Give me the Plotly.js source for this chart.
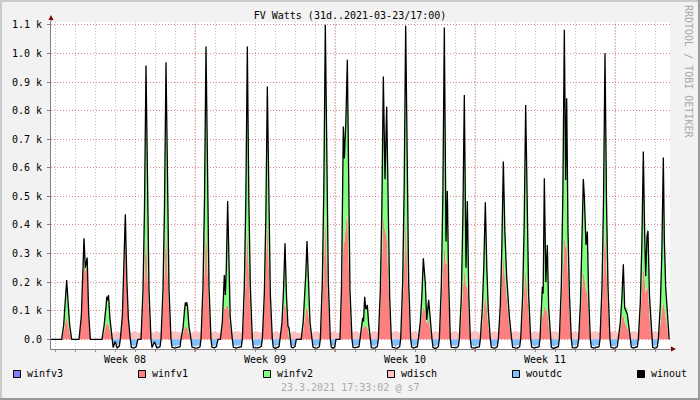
<!DOCTYPE html>
<html><head><meta charset="utf-8">
<script src="https://cdn.plot.ly/plotly-3.0.1.min.js"></script>
<style>html,body{margin:0;padding:0;background:#f2f2f2}#chart{width:700px;height:400px}</style>
</head><body><div id="chart"></div>
<script>
// ---------- texts ----------
const titleText = 'FV Watts (31d..2021-03-23/17:00)';
const footerText = '23.3.2021 17:33:02 @ s7';
const sideText = 'RRDTOOL / TOBI OETIKER';
const seriesNames = ['winfv3', 'winfv1', 'winfv2', 'wdisch', 'woutdc', 'winout'];
const seriesColors = ['#7f7fff', '#ff8080', '#80ff80', '#ffc0c0', '#80c0ff', '#000000'];
const yTickVals = [0, 100, 200, 300, 400, 500, 600, 700, 800, 900, 1000, 1100];
const yTickText = ['0.0', '0.1 k', '0.2 k', '0.3 k', '0.4 k', '0.5 k', '0.6 k', '0.7 k', '0.8 k', '0.9 k', '1.0 k', '1.1 k'];
const weekLabels = ['Week 08', 'Week 09', 'Week 10', 'Week 11'];
// hours after 2021-02-21 00:00
const startDate = Date.UTC(2021, 1, 21, 0, 0, 0);
const weekMidHours = [84, 252, 420, 588];
const weekStartHours = [168, 336, 504, 672];
const rangeHours = [-4.8, 738];
const yRange = [-34, 1110];

// ---------- series (W), sampled at hours ----------
const hours = [
 -4.8, 8.0, 10.4, 12.2, 14.0, 15.8, 17.6, 20.0,
 28.8, 31.6, 33.4, 34.8, 36.4, 38.6, 40.4, 42.4,
 56.4, 59.0, 61.2, 62.2, 63.2, 64.2, 66.0, 68.6,
 69.8, 72.2, 74.6, 77.2,
 78.4, 80.8, 82.6, 84.4, 86.2, 88.0, 90.4,
 91.6, 94.4, 97.4, 99.4,
 103.2, 105.6, 107.4, 109.2, 111.0, 112.8, 115.2,
 116.4, 119.4, 122.4, 126.0,
 127.2, 129.6, 131.4, 133.2, 135.0, 136.8, 139.2,
 140.4, 143.6, 146.8, 150.0,
 151.2, 153.6, 155.4, 156.4, 157.2, 158.0, 159.0, 160.8, 163.2,
 164.4, 167.6, 170.8, 174.0,
 175.2, 177.6, 179.4, 181.2, 183.0, 184.8, 187.2,
 188.4, 191.0, 193.6, 195.6,
 198.4, 200.8, 202.2, 203.2, 204.4, 205.6, 207.2, 208.6, 210.2, 212.8,
 214.0, 217.2, 220.4, 223.6,
 224.8, 227.2, 229.0, 230.8, 232.6, 234.4, 236.8,
 238.0, 241.2, 244.4, 247.6,
 248.8, 251.2, 253.0, 254.8, 256.6, 258.4, 260.8,
 262.0, 264.4, 266.8, 268.8,
 270.0, 272.4, 274.2, 276.0, 277.8, 279.6, 280.8, 282.4,
 283.6, 285.8, 288.0, 289.6,
 295.4, 297.8, 299.6, 301.0, 302.4, 304.2, 306.0, 308.4,
 309.6, 312.2, 314.8, 317.2,
 318.4, 320.8, 322.6, 324.4, 326.2, 328.0, 330.4,
 331.6, 333.6, 335.6, 337.2,
 342.0, 343.8, 345.0, 346.0, 347.2, 349.0, 350.8, 352.6, 354.0, 356.4,
 357.6, 360.0, 362.4, 364.8,
 366.0, 367.6, 369.2, 370.2, 371.6, 373.0, 374.8, 376.4, 378.4,
 379.6, 382.0, 384.4, 386.8,
 388.0, 390.4, 392.2, 394.0, 396.0, 398.0, 399.8, 401.6, 403.6,
 404.8, 407.8, 410.8, 413.6,
 414.8, 417.2, 419.0, 420.8, 422.6, 424.4, 426.8,
 428.0, 430.4, 432.8, 434.8,
 436.0, 438.4, 440.2, 442.0, 444.4, 446.0, 448.4, 450.2, 452.4,
 453.6, 455.8, 458.0, 460.0,
 461.2, 463.6, 465.4, 467.2, 469.2, 470.8, 472.4, 474.4,
 475.6, 478.4, 481.2, 484.0,
 485.2, 487.6, 489.4, 491.2, 493.2, 494.8, 496.6, 498.4,
 499.6, 502.8, 506.0, 509.2,
 510.4, 512.8, 514.6, 516.4, 518.2, 520.0, 522.4,
 523.6, 526.2, 528.8, 530.8,
 532.0, 534.4, 536.2, 538.0, 539.8, 542.0, 543.6, 545.2, 548.0,
 549.2, 552.0, 554.8, 557.6,
 558.8, 561.2, 563.0, 564.8, 566.6, 568.4, 570.8,
 572.0, 575.0, 578.0, 580.8,
 582.0, 583.6, 584.8, 585.8, 587.2, 589.0, 590.8, 592.4, 594.4,
 595.6, 598.4, 601.2, 604.0,
 605.2, 607.6, 609.4, 611.2, 612.8, 614.0, 615.6, 617.4, 619.6,
 620.8, 623.0, 625.2, 627.2,
 628.4, 630.6, 632.4, 634.0, 635.2, 637.2, 638.8, 640.4, 642.4,
 643.6, 646.8, 650.0, 652.8,
 654.0, 656.4, 658.2, 660.0, 661.8, 663.6, 666.0,
 667.2, 669.8, 672.4, 674.8,
 676.0, 678.4, 680.2, 682.0, 683.6, 685.2, 686.8, 688.4, 690.4,
 691.6, 694.0, 696.4, 698.8,
 700.0, 702.4, 704.2, 706.0, 707.4, 708.8, 710.4, 711.6, 713.4, 716.0,
 717.2, 719.2, 721.2, 722.8,
 724.0, 726.4, 728.2, 730.0, 731.2, 732.8, 734.6, 736.4, 737.0
];

const winout = [
 0, 0, 50, 125, 207, 125, 50, 0,
 0, 80, 230, 353, 250, 286, 90, 0,
 0, 50, 115, 149, 136, 155, 70, 0,
 -29, -8, -30, -24,
 0, 80, 230, 437, 210, 75, 0,
 -28, -31, -26, 0,
 0, 170, 460, 958, 460, 170, 0,
 -29, -9, -30, -26,
 0, 175, 465, 969, 465, 175, 0,
 -28, -31, -29, -26,
 0, 40, 100, 128, 118, 130, 115, 45, 0,
 -27, -30, -31, -26,
 0, 185, 490, 1024, 490, 185, 0,
 -28, -30, -26, 0,
 0, 60, 160, 225, 155, 250, 484, 230, 80, 0,
 -28, -31, -29, -26,
 0, 185, 490, 1024, 490, 185, 0,
 -29, -30, -30, -25,
 0, 160, 425, 884, 425, 160, 0,
 -28, -32, -29, -26,
 0, 60, 170, 336, 150, 45, 40, 0,
 -28, -30, -25, 0,
 0, 60, 150, 230, 344, 170, 60, 0,
 -27, -31, -30, -26,
 0, 200, 530, 1100, 530, 200, 0,
 -28, -31, -27, 0,
 0, 180, 420, 744, 633, 760, 978, 480, 170, 0,
 -28, -30, -29, -26,
 0, 35, 75, 62, 149, 105, 120, 55, 0,
 -29, -31, -30, -25,
 0, 170, 450, 919, 560, 814, 400, 150, 0,
 -28, -30, -31, -26,
 0, 200, 530, 1097, 530, 200, 0,
 -27, -31, -29, -26,
 0, 60, 150, 283, 196, 68, 138, 60, 0,
 -28, -32, -30, -26,
 0, 190, 500, 1091, 342, 519, 200, 0,
 -28, -30, -30, -25,
 0, 150, 420, 855, 250, 484, 150, 0,
 -29, -31, -29, -26,
 0, 110, 260, 479, 250, 100, 0,
 -28, -31, -30, -26,
 0, 120, 320, 622, 380, 219, 140, 80, 0,
 -28, -30, -31, -26,
 0, 155, 400, 820, 400, 155, 0,
 -27, -31, -29, -26,
 0, 90, 184, 160, 563, 200, 330, 110, 0,
 -28, -32, -30, -26,
 0, 190, 500, 1083, 557, 843, 380, 150, 0,
 -29, -30, -30, -25,
 0, 130, 330, 561, 500, 330, 377, 150, 0,
 -28, -31, -29, -26,
 0, 185, 480, 1001, 480, 185, 0,
 -28, -31, -30, -26,
 0, 60, 140, 262, 110, 100, 88, 50, 0,
 -27, -31, -29, -26,
 0, 130, 330, 657, 400, 221, 360, 379, 150, 0,
 -28, -31, -30, -26,
 0, 120, 300, 636, 350, 184, 90, 0, 0
];

const winfv1 = [
 0, 0, 25, 55, 79, 50, 22, 0,
 0, 70, 200, 280, 235, 255, 80, 0,
 0, 25, 48, 57, 56, 52, 28, 0,
 0, 0, 0, 0,
 0, 70, 200, 380, 185, 65, 0,
 0, 0, 0, 0,
 0, 105, 230, 377, 225, 100, 0,
 0, 0, 0, 0,
 0, 110, 240, 400, 240, 110, 0,
 0, 0, 0, 0,
 0, 20, 38, 44, 44, 42, 38, 18, 0,
 0, 0, 0, 0,
 0, 115, 250, 412, 248, 112, 0,
 0, 0, 0, 0,
 0, 40, 90, 110, 105, 115, 120, 100, 45, 0,
 0, 0, 0, 0,
 0, 110, 235, 390, 235, 105, 0,
 0, 0, 0, 0,
 0, 120, 255, 425, 255, 118, 0,
 0, 0, 0, 0,
 0, 45, 95, 132, 90, 35, 0, 0,
 0, 0, 0, 0,
 0, 30, 70, 100, 120, 85, 35, 0,
 0, 0, 0, 0,
 0, 120, 260, 435, 260, 118, 0,
 0, 0, 0, 0,
 0, 110, 230, 330, 340, 400, 447, 250, 100, 0,
 0, 0, 0, 0,
 0, 20, 38, 40, 50, 45, 40, 20, 0,
 0, 0, 0, 0,
 0, 110, 250, 435, 380, 360, 230, 100, 0,
 0, 0, 0, 0,
 0, 120, 260, 435, 260, 120, 0,
 0, 0, 0, 0,
 0, 40, 85, 114, 95, 55, 70, 35, 0,
 0, 0, 0, 0,
 0, 110, 230, 330, 260, 280, 130, 0,
 0, 0, 0, 0,
 0, 80, 170, 248, 180, 200, 80, 0,
 0, 0, 0, 0,
 0, 50, 110, 155, 105, 45, 0,
 0, 0, 0, 0,
 0, 80, 200, 295, 220, 150, 100, 50, 0,
 0, 0, 0, 0,
 0, 90, 170, 250, 165, 85, 0,
 0, 0, 0, 0,
 0, 45, 80, 85, 120, 100, 100, 50, 0,
 0, 0, 0, 0,
 0, 110, 230, 365, 320, 330, 220, 90, 0,
 0, 0, 0, 0,
 0, 80, 170, 237, 220, 170, 160, 80, 0,
 0, 0, 0, 0,
 0, 115, 245, 400, 245, 115, 0,
 0, 0, 0, 0,
 0, 35, 70, 90, 60, 50, 40, 25, 0,
 0, 0, 0, 0,
 0, 80, 170, 250, 220, 160, 180, 175, 80, 0,
 0, 0, 0, 0,
 0, 50, 100, 132, 110, 80, 45, 0, 0
];

const winfv2 = [
 0, 0, 25, 72, 130, 77, 30, 0,
 0, 12, 32, 78, 18, 35, 12, 0,
 0, 27, 70, 95, 83, 106, 45, 0,
 0, 0, 0, 0,
 0, 12, 35, 62, 30, 12, 0,
 0, 0, 0, 0,
 0, 70, 238, 600, 243, 75, 0,
 0, 0, 0, 0,
 0, 70, 235, 590, 235, 70, 0,
 0, 0, 0, 0,
 0, 22, 64, 86, 76, 90, 79, 28, 0,
 0, 0, 0, 0,
 0, 75, 248, 628, 250, 78, 0,
 0, 0, 0, 0,
 0, 22, 72, 118, 52, 138, 368, 132, 37, 0,
 0, 0, 0, 0,
 0, 78, 262, 640, 262, 82, 0,
 0, 0, 0, 0,
 0, 42, 178, 466, 178, 44, 0,
 0, 0, 0, 0,
 0, 17, 80, 210, 65, 14, 42, 0,
 0, 0, 0, 0,
 0, 32, 82, 133, 228, 88, 27, 0,
 0, 0, 0, 0,
 0, 82, 275, 680, 275, 85, 0,
 0, 0, 0, 0,
 0, 75, 200, 425, 305, 372, 545, 240, 75, 0,
 0, 0, 0, 0,
 0, 18, 40, 30, 105, 66, 84, 38, 0,
 0, 0, 0, 0,
 0, 62, 205, 490, 185, 460, 175, 52, 0,
 0, 0, 0, 0,
 0, 82, 275, 675, 275, 82, 0,
 0, 0, 0, 0,
 0, 22, 70, 175, 105, 15, 72, 28, 0,
 0, 0, 0, 0,
 0, 85, 280, 775, 90, 250, 75, 0,
 0, 0, 0, 0,
 0, 75, 255, 620, 75, 290, 75, 0,
 0, 0, 0, 0,
 0, 62, 155, 330, 150, 57, 0,
 0, 0, 0, 0,
 0, 45, 128, 345, 170, 75, 45, 32, 0,
 0, 0, 0, 0,
 0, 68, 238, 585, 243, 72, 0,
 0, 0, 0, 0,
 0, 47, 106, 78, 445, 102, 232, 62, 0,
 0, 0, 0, 0,
 0, 82, 275, 725, 245, 520, 165, 62, 0,
 0, 0, 0, 0,
 0, 55, 165, 330, 285, 165, 222, 72, 0,
 0, 0, 0, 0,
 0, 74, 245, 607, 245, 74, 0,
 0, 0, 0, 0,
 0, 27, 72, 175, 55, 60, 70, 30, 0,
 0, 0, 0, 0,
 0, 55, 165, 410, 185, 65, 200, 215, 75, 0,
 0, 0, 0, 0,
 0, 72, 205, 510, 245, 106, 47, 0, 0
];

// battery discharge / dc output, sampled at night hours
const nightHours = [
 66.0, 68.6, 69.8, 72.2, 74.6, 77.2, 78.4, 80.8,
 88.0, 90.4, 91.6, 94.4, 97.4, 99.4, 103.2, 105.6,
 112.8, 115.2, 116.4, 119.4, 122.4, 126.0, 127.2, 129.6,
 136.8, 139.2, 140.4, 143.6, 146.8, 150.0, 151.2, 153.6,
 160.8, 163.2, 164.4, 167.6, 170.8, 174.0, 175.2, 177.6,
 184.8, 187.2, 188.4, 191.0, 193.6, 195.6, 198.4, 200.8,
 210.2, 212.8, 214.0, 217.2, 220.4, 223.6, 224.8, 227.2,
 234.4, 236.8, 238.0, 241.2, 244.4, 247.6, 248.8, 251.2,
 258.4, 260.8, 262.0, 264.4, 266.8, 268.8, 270.0, 272.4,
 279.6, 282.4, 283.6, 285.8, 288.0, 289.6, 295.4, 297.8,
 306.0, 308.4, 309.6, 312.2, 314.8, 317.2, 318.4, 320.8,
 328.0, 330.4, 331.6, 333.6, 335.6, 337.2, 342.0, 343.8,
 354.0, 356.4, 357.6, 360.0, 362.4, 364.8, 366.0, 367.6,
 376.4, 378.4, 379.6, 382.0, 384.4, 386.8, 388.0, 390.4,
 401.6, 403.6, 404.8, 407.8, 410.8, 413.6, 414.8, 417.2,
 424.4, 426.8, 428.0, 430.4, 432.8, 434.8, 436.0, 438.4,
 450.2, 452.4, 453.6, 455.8, 458.0, 460.0, 461.2, 463.6,
 472.4, 474.4, 475.6, 478.4, 481.2, 484.0, 485.2, 487.6,
 496.6, 498.4, 499.6, 502.8, 506.0, 509.2, 510.4, 512.8,
 520.0, 522.4, 523.6, 526.2, 528.8, 530.8, 532.0, 534.4,
 545.2, 548.0, 549.2, 552.0, 554.8, 557.6, 558.8, 561.2,
 568.4, 570.8, 572.0, 575.0, 578.0, 580.8, 582.0, 583.6,
 592.4, 594.4, 595.6, 598.4, 601.2, 604.0, 605.2, 607.6,
 617.4, 619.6, 620.8, 623.0, 625.2, 627.2, 628.4, 630.6,
 640.4, 642.4, 643.6, 646.8, 650.0, 652.8, 654.0, 656.4,
 663.6, 666.0, 667.2, 669.8, 672.4, 674.8, 676.0, 678.4,
 688.4, 690.4, 691.6, 694.0, 696.4, 698.8, 700.0, 702.4,
 713.4, 716.0, 717.2, 719.2, 721.2, 722.8, 724.0, 726.4
];
const wdisch = [
 0, 20, 26, 22, 28, 25, 22, 0,
 0, 22, 25, 28, 26, 24, 22, 0,
 0, 22, 25, 24, 28, 25, 22, 0,
 0, 22, 27, 28, 26, 24, 22, 0,
 0, 22, 25, 28, 28, 24, 22, 0,
 0, 22, 25, 28, 26, 24, 22, 0,
 0, 22, 26, 28, 27, 24, 22, 0,
 0, 22, 26, 28, 26, 24, 22, 0,
 0, 22, 25, 28, 27, 25, 22, 0,
 0, 22, 25, 28, 26, 24, 22, 0,
 0, 22, 25, 28, 27, 24, 22, 0,
 0, 22, 25, 28, 26, 24, 22, 0,
 0, 22, 26, 28, 27, 24, 22, 0,
 0, 22, 25, 28, 27, 25, 22, 0,
 0, 22, 26, 27, 28, 24, 22, 0,
 0, 22, 25, 28, 27, 24, 22, 0,
 0, 22, 26, 28, 26, 25, 22, 0,
 0, 22, 25, 28, 27, 24, 22, 0,
 0, 22, 26, 28, 27, 24, 22, 0,
 0, 22, 25, 27, 28, 24, 22, 0,
 0, 22, 26, 28, 27, 25, 22, 0,
 0, 22, 25, 28, 27, 24, 22, 0,
 0, 22, 26, 28, 26, 24, 22, 0,
 0, 22, 25, 28, 27, 24, 22, 0,
 0, 22, 26, 27, 28, 25, 22, 0,
 0, 22, 25, 28, 27, 24, 22, 0,
 0, 22, 26, 28, 27, 24, 22, 0,
 0, 22, 25, 28, 27, 24, 22, 0
];
const woutdc = [
 0, 0, -20, -5, -22, -16, 0, 0,
 0, 0, -20, -24, -18, 0, 0, 0,
 0, 0, -20, -6, -22, -18, 0, 0,
 0, 0, -21, -24, -22, -17, 0, 0,
 0, 0, -19, -24, -23, -18, 0, 0,
 0, 0, -20, -24, -18, 0, 0, 0,
 0, 0, -20, -23, -22, -18, 0, 0,
 0, 0, -20, -23, -22, -18, 0, 0,
 0, 0, -21, -24, -21, -18, 0, 0,
 0, 0, -20, -24, -18, 0, 0, 0,
 0, 0, -20, -24, -22, -18, 0, 0,
 0, 0, -20, -24, -18, 0, 0, 0,
 0, 0, -21, -23, -22, -18, 0, 0,
 0, 0, -20, -24, -22, -17, 0, 0,
 0, 0, -19, -24, -23, -18, 0, 0,
 0, 0, -20, -24, -22, -18, 0, 0,
 0, 0, -21, -25, -22, -18, 0, 0,
 0, 0, -20, -23, -22, -17, 0, 0,
 0, 0, -20, -24, -22, -18, 0, 0,
 0, 0, -21, -24, -23, -18, 0, 0,
 0, 0, -20, -24, -22, -18, 0, 0,
 0, 0, -19, -24, -22, -18, 0, 0,
 0, 0, -21, -25, -22, -18, 0, 0,
 0, 0, -20, -23, -22, -17, 0, 0,
 0, 0, -20, -24, -22, -18, 0, 0,
 0, 0, -21, -24, -23, -18, 0, 0,
 0, 0, -20, -24, -22, -18, 0, 0,
 0, 0, -20, -24, -21, -18, 0, 0
];
const winfv3Hours = [-4.8, 737.0];
const winfv3 = [0, 0];

if (hours.length !== winout.length || hours.length !== winfv1.length || hours.length !== winfv2.length) {
  throw new Error('length mismatch ' + [hours.length, winout.length, winfv1.length, winfv2.length].join(','));
}
if (nightHours.length !== wdisch.length || nightHours.length !== woutdc.length) {
  throw new Error('night length mismatch ' + [nightHours.length, wdisch.length, woutdc.length].join(','));
}

// ---------- helpers ----------
function hourToDate(h) {
  return new Date(startDate + Math.round(h * 3600000)).toISOString().slice(0, 19).replace('T', ' ');
}
const PL = 51, PR = 670, PT = 22, PB = 349;
const px = X => (X - PL) / (PR - PL);
const py = Y => (PB - Y) / (PB - PT);
const FONT = 'DejaVu Sans Mono';

const xs = hours.map(hourToDate);
const nxs = nightHours.map(hourToDate);

const traces = [
  {name: 'wdisch', x: nxs, y: wdisch, type: 'scatter', mode: 'none', fill: 'tozeroy', fillcolor: seriesColors[3], hoverinfo: 'skip'},
  {name: 'woutdc', x: nxs, y: woutdc, type: 'scatter', mode: 'none', fill: 'tozeroy', fillcolor: seriesColors[4], hoverinfo: 'skip'},
  {name: 'winfv3', x: winfv3Hours.map(hourToDate), y: winfv3, type: 'scatter', mode: 'none', fill: 'tozeroy', fillcolor: seriesColors[0], hoverinfo: 'skip'},
  {name: 'winfv1', x: xs, y: winfv1, type: 'scatter', mode: 'none', stackgroup: 'pv', fillcolor: seriesColors[1], hoverinfo: 'skip'},
  {name: 'winfv2', x: xs, y: winfv2, type: 'scatter', mode: 'none', stackgroup: 'pv', fillcolor: seriesColors[2], hoverinfo: 'skip'},
  {name: 'winout', x: xs, y: winout, type: 'scatter', mode: 'lines', line: {color: seriesColors[5], width: 1.3}, hoverinfo: 'skip'}
];

// ---------- decorations ----------
const shapes = [];
weekStartHours.forEach(h => {
  shapes.push({type: 'line', xref: 'x', yref: 'paper', x0: hourToDate(h), x1: hourToDate(h), y0: 0, y1: 1,
    line: {color: 'rgba(210,80,80,0.7)', width: 1, dash: '1px,2px'}, layer: 'between'});
  shapes.push({type: 'line', xref: 'x', yref: 'paper', x0: hourToDate(h), x1: hourToDate(h), y0: py(352), y1: py(349),
    line: {color: '#c06060', width: 1}});
});
// axis arrows
shapes.push({type: 'line', xref: 'paper', yref: 'paper', x0: 0, x1: 0, y0: 1, y1: py(18), line: {color: '#808080', width: 1}});
shapes.push({type: 'line', xref: 'paper', yref: 'paper', x0: 1, x1: px(672), y0: 0, y1: 0, line: {color: '#808080', width: 1}});
shapes.push({type: 'path', xref: 'paper', yref: 'paper',
  path: `M ${px(48.5)},${py(20)} L ${px(53.5)},${py(20)} L ${px(51)},${py(15)} Z`, fillcolor: '#800000', line: {width: 0}});
shapes.push({type: 'path', xref: 'paper', yref: 'paper',
  path: `M ${px(671)},${py(346.5)} L ${px(671)},${py(351.5)} L ${px(676)},${py(349)} Z`, fillcolor: '#800000', line: {width: 0}});
// 3D border
shapes.push({type: 'line', xref: 'paper', yref: 'paper', x0: px(0), x1: px(700), y0: py(1), y1: py(1), line: {color: '#cbcbcb', width: 2}});
shapes.push({type: 'line', xref: 'paper', yref: 'paper', x0: px(1), x1: px(1), y0: py(0), y1: py(400), line: {color: '#cbcbcb', width: 2}});
shapes.push({type: 'line', xref: 'paper', yref: 'paper', x0: px(0), x1: px(700), y0: py(399), y1: py(399), line: {color: '#999999', width: 2}});
shapes.push({type: 'line', xref: 'paper', yref: 'paper', x0: px(699), x1: px(699), y0: py(0), y1: py(400), line: {color: '#999999', width: 2}});

// legend
const legendBoxX = [13.5, 138.5, 263.5, 387.5, 512.5, 637.5];
const annotations = [];
seriesNames.forEach((n, i) => {
  shapes.push({type: 'rect', xref: 'paper', yref: 'paper', x0: px(legendBoxX[i]), x1: px(legendBoxX[i] + 7),
    y0: py(377.5), y1: py(370.5), fillcolor: seriesColors[i], line: {color: '#000', width: 1}});
  annotations.push({xref: 'paper', yref: 'paper', x: px(legendBoxX[i] + 12), y: py(374), text: n, showarrow: false,
    xanchor: 'left', yanchor: 'middle', font: {family: FONT, size: 10, color: '#000'}, borderpad: 0});
});
annotations.push({xref: 'paper', yref: 'paper', x: px(350), y: py(387.5), text: footerText, showarrow: false,
  xanchor: 'center', yanchor: 'middle', font: {family: FONT, size: 10, color: '#aaaaaa'}, borderpad: 0});
annotations.push({xref: 'paper', yref: 'paper', x: px(689), y: py(71), text: sideText, showarrow: false, textangle: 90,
  xanchor: 'center', yanchor: 'middle', font: {family: FONT, size: 10, color: '#a8a8a8'}, borderpad: 0});

const layout = {
  width: 700, height: 400,
  margin: {l: PL, r: 700 - PR, t: PT, b: 400 - PB, pad: 0},
  paper_bgcolor: '#f2f2f2', plot_bgcolor: '#ffffff',
  showlegend: false,
  font: {family: FONT, size: 10, color: '#000'},
  title: {text: titleText, x: 0.5, xref: 'container', xanchor: 'center', y: 1 - 15.5 / 400, yref: 'container', yanchor: 'middle',
    font: {family: FONT, size: 10, color: '#000'}},
  xaxis: {
    type: 'date', range: rangeHours.map(hourToDate), fixedrange: true,
    tickmode: 'array', tickvals: weekMidHours.map(hourToDate), ticktext: weekLabels,
    ticks: '', showgrid: false, zeroline: false, showline: true, linecolor: '#808080', linewidth: 1,
    tickfont: {family: FONT, size: 10, color: '#000'}, ticklabelstandoff: 1,
    minor: {tickmode: 'linear', tick0: hourToDate(0), dtick: 86400000, showgrid: true,
      gridcolor: 'rgba(150,150,150,0.6)', griddash: '1px,2px', gridwidth: 1, ticks: 'outside', ticklen: 2, tickcolor: '#909090'}
  },
  yaxis: {
    range: yRange, fixedrange: true, tickmode: 'array', tickvals: yTickVals, ticktext: yTickText,
    showgrid: true, gridcolor: 'rgba(210,80,80,0.7)', griddash: '1px,2px', gridwidth: 1,
    zeroline: false, showline: true, linecolor: '#808080', linewidth: 1,
    ticks: 'outside', ticklen: 3, tickcolor: '#808080', ticklabelstandoff: 3,
    tickfont: {family: FONT, size: 10, color: '#000'}
  },
  shapes: shapes,
  annotations: annotations
};

Plotly.newPlot('chart', traces, layout, {staticPlot: true, displayModeBar: false});
</script>
</body></html>
